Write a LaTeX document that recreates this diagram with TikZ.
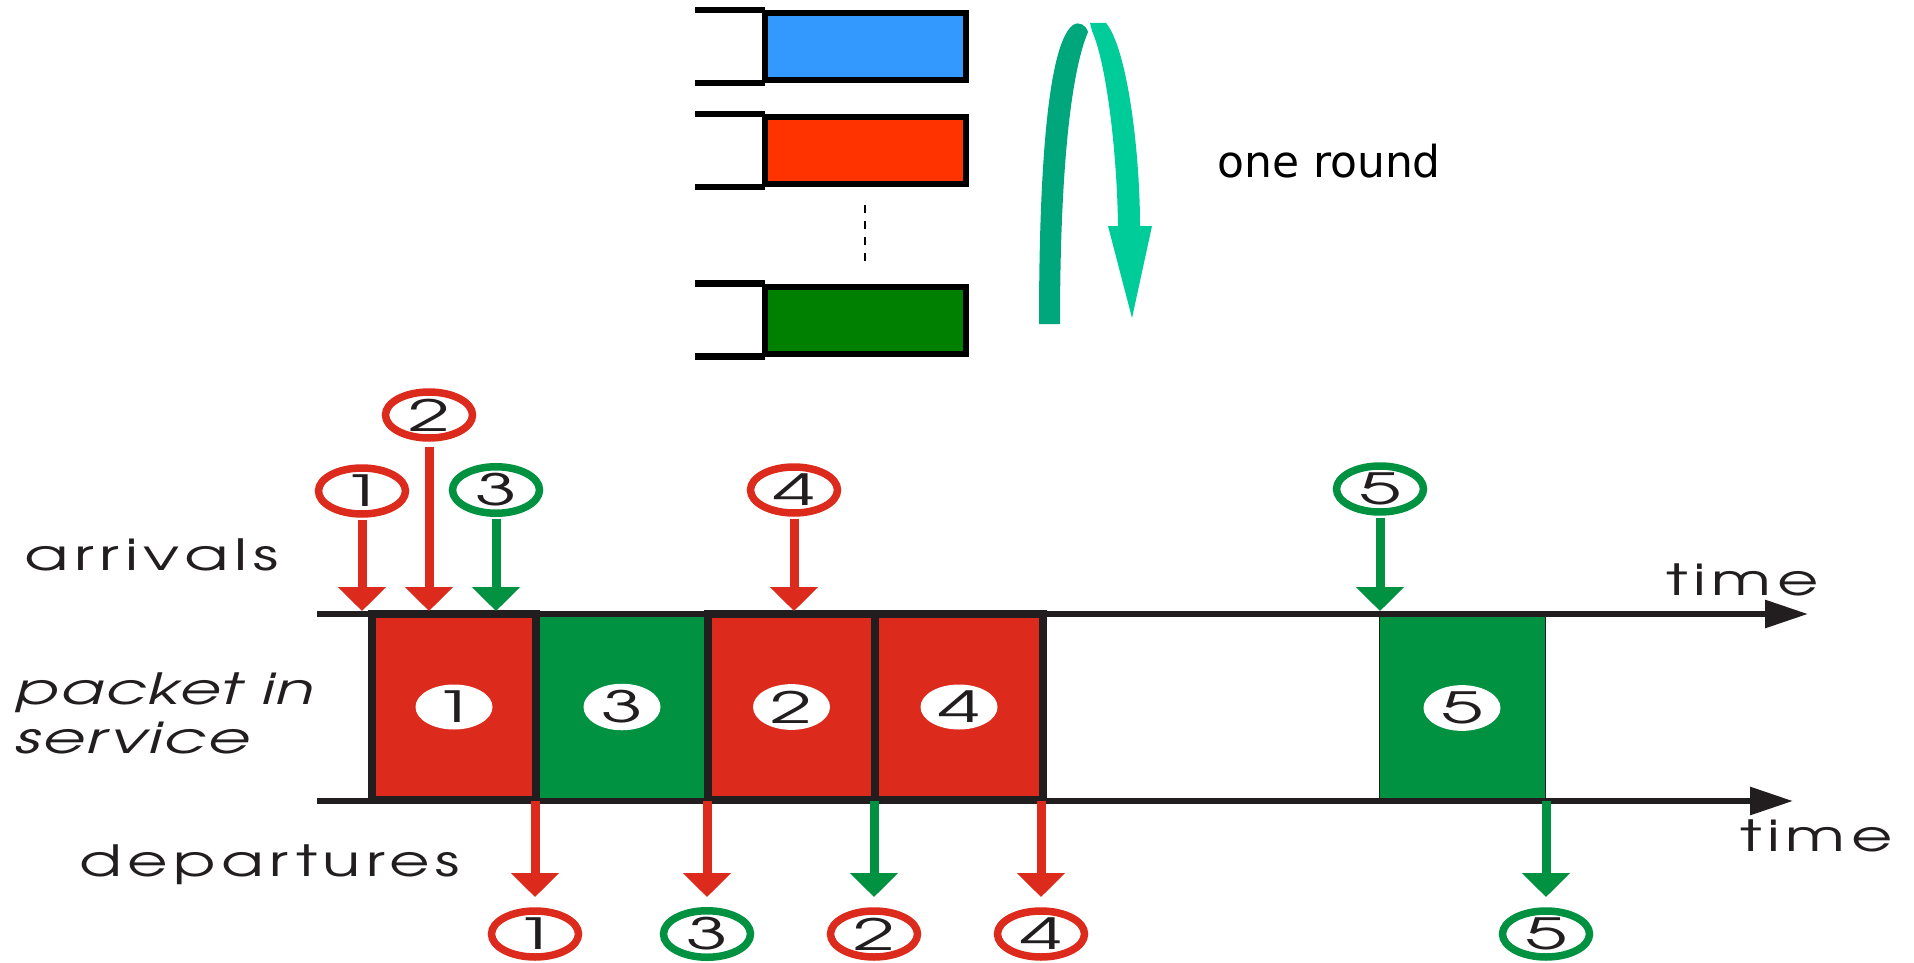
\documentclass[tikz,border=0pt]{standalone}
\usepackage{fontspec}
\usepackage{graphicx}
\usetikzlibrary{arrows.meta,shapes.geometric}
\IfFontExistsTF{TeX Gyre Adventor}{%
  \newfontfamily\advfont{TeX Gyre Adventor}[LetterSpace=9]%
  \newfontfamily\advitfont{TeX Gyre Adventor}[LetterSpace=3]%
  \newfontfamily\digfont{TeX Gyre Adventor}}{%
  \newfontfamily\advfont{Poppins}[LetterSpace=6]%
  \newfontfamily\advitfont{Poppins}[LetterSpace=2]%
  \newfontfamily\digfont{Poppins}}
\newfontfamily\roundfont{DejaVu Sans}
\definecolor{qblue}{HTML}{3399FF}
\definecolor{qred}{HTML}{FF3300}
\definecolor{qgreen}{HTML}{008000}
\definecolor{arrdark}{HTML}{00A67C}
\definecolor{arrlight}{HTML}{00CC99}
\definecolor{pred}{HTML}{DC2B1C}
\definecolor{pgreen}{HTML}{009141}
\definecolor{pblack}{HTML}{221E1F}
\newcommand\lab[2][1.44]{\scalebox{#1}[1]{\advfont\fontsize{43}{43}\selectfont #2}}
\newcommand\labit[2][1.44]{\scalebox{#1}[1]{\advitfont\itshape\fontsize{43}{43}\selectfont #2}}
\newcommand\dig[1]{\scalebox{1.75}[1]{\digfont\fontsize{43}{43}\selectfont #1}}
\tikzset{
  qline/.style={line width=6.5pt, draw=black},
  qbox/.style={draw=black, line width=6pt, minimum width=201pt, minimum height=67pt, inner sep=0pt},
  pbox/.style={draw=pblack, line width=8pt, minimum height=186pt, inner sep=0pt},
  ring/.style={ellipse, draw=#1, line width=7.5pt, fill=white, minimum width=87pt, minimum height=46pt, inner sep=0pt, text=pblack},
  blob/.style={ellipse, fill=white, minimum width=77pt, minimum height=45pt, inner sep=0pt, text=pblack},
  parr/.style={line width=9pt, draw=#1, -{Triangle[width=47pt,length=24pt]}},
  timeline/.style={line width=6pt, draw=pblack, -{Triangle[width=27pt,length=43pt]}},
  lbl/.style={anchor=base west, inner sep=0pt, text=pblack},
}
\begin{document}
\begin{tikzpicture}[x=1pt,y=-1pt]
\useasboundingbox (0,0) rectangle (1914,963);
% ---------- round robin queues ----------
\node[qbox, fill=qblue]  (q1) at (865,46.4) {};
\node[qbox, fill=qred]   (q2) at (865,150.5) {};
\node[qbox, fill=qgreen] (q3) at (865,320) {};
\foreach \q in {q1,q2,q3}{
  \draw[qline] ([xshift=3pt]\q.north west) -- ++(-70,0);
  \draw[qline] ([xshift=3pt]\q.south west) -- ++(-70,0);
}
\draw[black, line width=2.5pt, dash pattern=on 8pt off 8pt] ([yshift=-18pt]q2.south) -- ([yshift=19pt]q3.north);
% one round arrow
\fill[arrdark] (1039,324) .. controls (1039,150) and (1050,42) .. (1073,25)
   .. controls (1079,21) and (1086,25) .. (1088,32)
   .. controls (1071,72) and (1060,170) .. (1060,324) -- cycle;
\fill[arrlight] (1090,23) -- (1106,23) .. controls (1127,48) and (1140,150) .. (1140,226)
   -- (1152,226) -- (1132,318) -- (1108,226) -- (1118,226)
   .. controls (1117,150) and (1106,62) .. (1092,31) -- cycle;
\node[anchor=base west, inner sep=0pt] (oneround) at (1217,177) {\roundfont\fontsize{44}{44}\selectfont one round};
% ---------- packets in service ----------
\node[fill=pgreen, minimum width=172pt, minimum height=186pt, inner sep=0pt] (b3) at (622,707) {};
\node[pbox, fill=pred, minimum width=164pt] (b1) at (454,707) {};
\node[pbox, fill=pred, minimum width=167pt] (b2) at (791.5,707) {};
\node[pbox, fill=pred, minimum width=168pt] (b4) at (959,707) {};
\node[fill=pgreen, draw=pblack, line width=0.8pt, minimum width=166pt, minimum height=188pt, inner sep=0pt] (b5) at (1462,708) {};
\node[blob] (c1) at (b1) {\dig{1}};
\node[blob] (c3) at (b3) {\dig{3}};
\node[blob] (c2) at (b2) {\dig{2}};
\node[blob] (c4) at (b4) {\dig{4}};
\node[blob] (c5) at (b5) {\dig{5}};
% time lines
\coordinate (ts) at (317,614);
\coordinate (te) at (1808,614);
\coordinate (bs) at (317,801);
\coordinate (be) at (1793,801);
\draw[timeline] (ts) -- (te);
\draw[timeline] (bs) -- (be);
\coordinate (tl) at (0,611);
\coordinate (dl) at (0,897);
% arrivals
\node[ring=pred]   (a1) at (362,491) {\dig{1}};
\node[ring=pred]   (a2) at (429,415) {\dig{2}};
\node[ring=pgreen] (a3) at (496,490) {\dig{3}};
\node[ring=pred]   (a4) at (794,490) {\dig{4}};
\node[ring=pgreen] (a5) at (1380,489) {\dig{5}};
\draw[parr=pred]   ([yshift=-2pt]a1.south) -- (a1.south |- tl);
\draw[parr=pred]   ([yshift=-5pt]a2.south) -- (a2.south |- tl);
\draw[parr=pgreen] ([yshift=-2pt]a3.south) -- (a3.south |- tl);
\draw[parr=pred]   ([yshift=-2pt]a4.south) -- (a4.south |- tl);
\draw[parr=pgreen] ([yshift=-2pt]a5.south) -- (a5.south |- tl);
% departures
\node[ring=pred]   (d1) at (535,934) {\dig{1}};
\node[ring=pgreen] (d3) at (707,934) {\dig{3}};
\node[ring=pred]   (d2) at (874,934) {\dig{2}};
\node[ring=pred]   (d4) at (1041,934) {\dig{4}};
\node[ring=pgreen] (d5) at (1546,934) {\dig{5}};
\draw[parr=pred]   (d1.north |- bs) -- (d1.north |- dl);
\draw[parr=pred]   (d3.north |- bs) -- (d3.north |- dl);
\draw[parr=pgreen] (d2.north |- bs) -- (d2.north |- dl);
\draw[parr=pred]   (d4.north |- bs) -- (d4.north |- dl);
\draw[parr=pgreen] (d5.north |- bs) -- (d5.north |- dl);
% labels
\node[lbl] (larr) at (24,570) {\lab[1.51]{arrivals}};
\node[lbl] (lpk)  at (15,704) {\labit[1.47]{packet in}};
\node[lbl] (lsv)  at (15,753) {\labit[1.52]{service}};
\node[lbl] (ldep) at (79,876) {\lab[1.45]{departures}};
\node[lbl] (lt1)  at (1666,595) {\lab[1.48]{time}};
\node[lbl] (lt2)  at (1740,851) {\lab[1.48]{time}};
\end{tikzpicture}
\end{document}
